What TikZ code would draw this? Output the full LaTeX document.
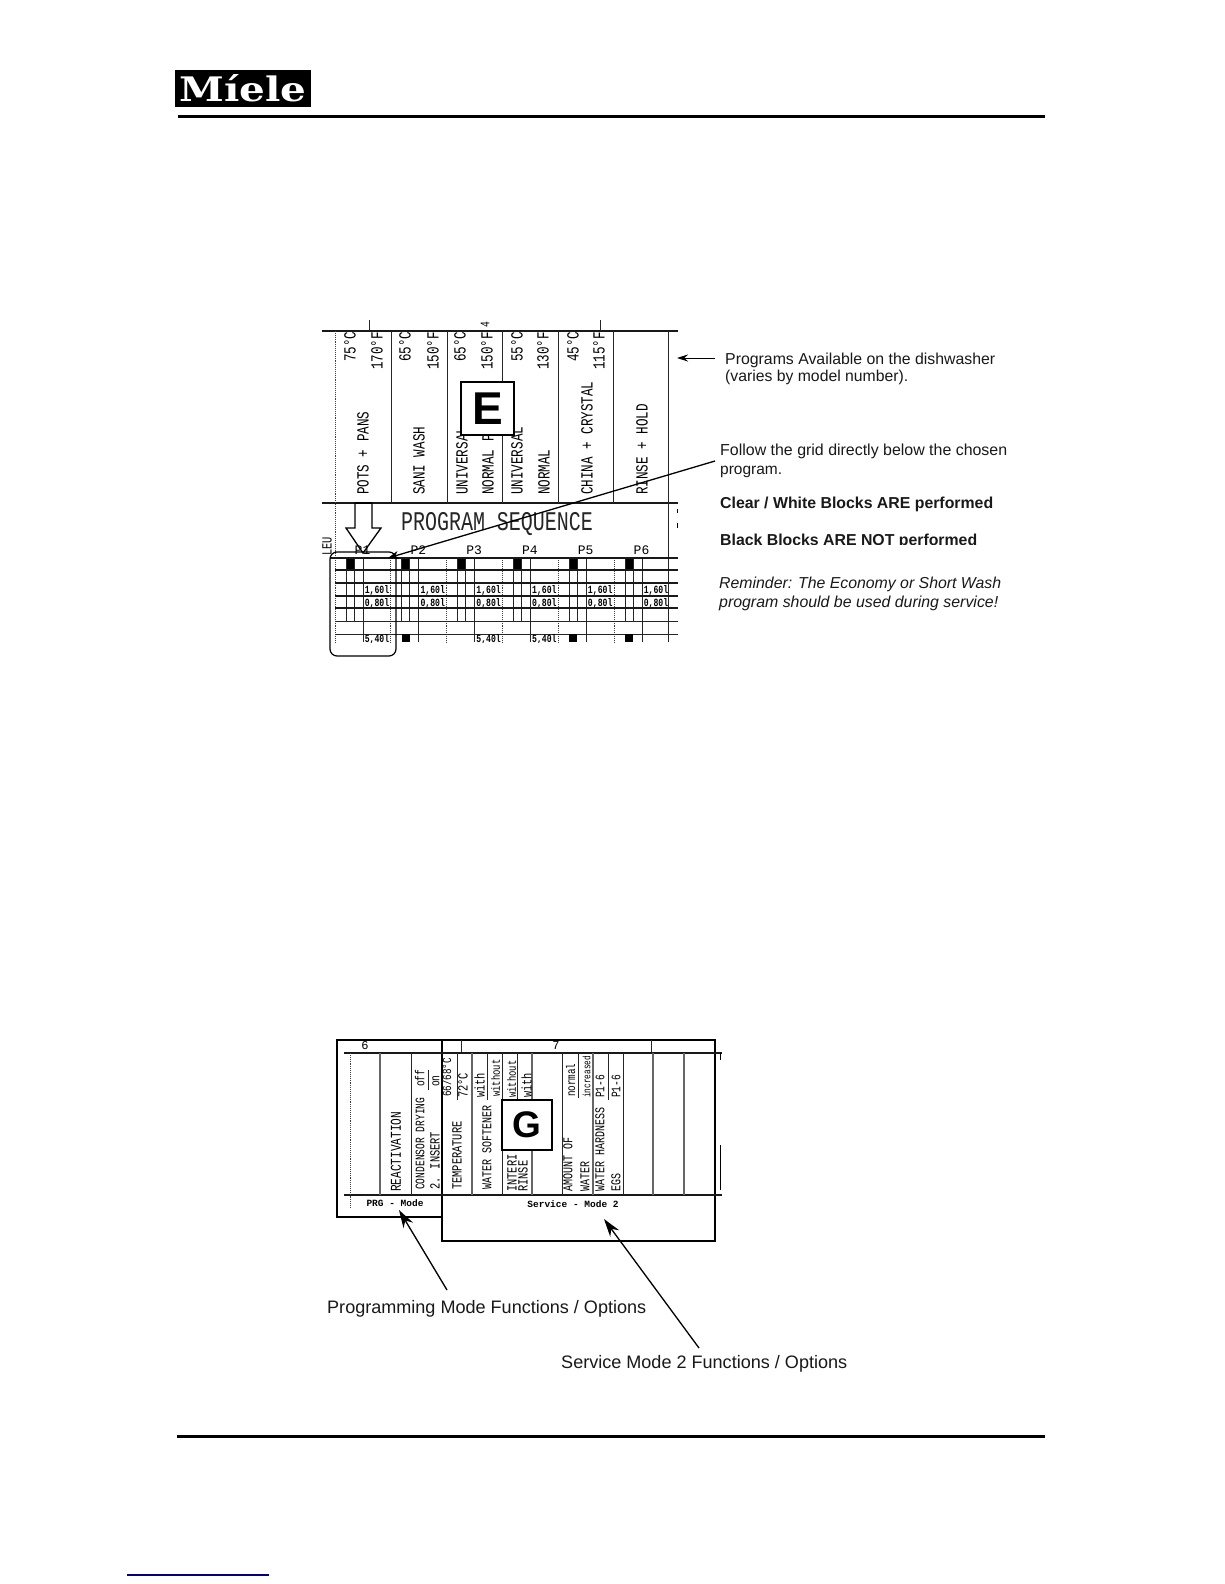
\documentclass[tikz,border=0pt]{standalone}
\usepackage{fontspec}
\usepackage{graphicx}
\usetikzlibrary{arrows.meta}
\setmainfont{Liberation Sans}
\newfontfamily\plotf[FakeStretch=0.74]{Liberation Mono}
\newfontfamily\plotw{Liberation Mono}
\newfontfamily\logof{DejaVu Serif}
\newcounter{vtc}
\tikzset{
  vlabel/.style={rotate=90,anchor=west,inner sep=0pt,text depth=0pt,text=black},
  note/.style={anchor=base west,inner sep=0pt,text=black!90},
  gridline/.style={line width=0.9pt,black!85},
  gridbold/.style={line width=1.3pt,black!90},
  dotline/.style={line width=0.9pt,black!75,densely dotted},
  frameline/.style={line width=2pt,black},
  pointer/.style={line width=1.3pt,-{Stealth[length=18pt,width=11pt]}},
  longpointer/.style={line width=1.3pt,-{Stealth[length=11pt,width=8pt]}},
  thinpointer/.style={line width=1pt,-{Stealth[length=11pt,width=7pt]}},
  rule/.style={line width=3pt,black},
  tagbox/.style={draw=black,fill=white,line width=2.4pt,inner sep=0pt},
  cell/.style={inner sep=0pt,font=\plotf\bfseries\fontsize{11}{11}\selectfont,text=black},
}
\newcommand\vt[4]{\stepcounter{vtc}\node[vlabel,text height=0.66*#3pt,font=\plotf\fontsize{#3}{#3}\selectfont] (v\thevtc) at (#1,#2) {#4};}
\newcommand\fitnote[5]{\node[note,font=#4] (#1) at #2 {\resizebox{#3pt}{!}{#5}};}
\begin{document}
\begin{tikzpicture}[x=1pt,y=-1pt]
\useasboundingbox (0,0) rectangle (1224,1584);
\fill[white] (0,0) rectangle (1224,1584);

% logo and page rules
\node[fill=black,minimum width=136pt,minimum height=37pt,inner sep=0pt] (logobox) at (243,88.5) {};
\node[inner sep=0pt,text=white] (logotext) at (243,88.5) {\resizebox{127pt}{27pt}{\logof\bfseries Míele}};
\coordinate (hl) at (178,117); \coordinate (hr) at (1045,117);
\draw[rule] (hl) -- (hr);
\coordinate (fl) at (177,1436); \coordinate (fr) at (1045,1436);
\draw[rule] (fl) -- (fr);
\coordinate (bl) at (127,1575); \coordinate (br) at (269,1575);
\draw[line width=1.2pt,blue!50!black] (bl) -- (br);

% ---------- table E ----------
\draw[gridbold] (322,331) -- (678,331);
\draw[gridbold] (322,503) -- (678,503);
\draw[gridline] (369,320) -- (369,331);
\draw[gridline] (600,320) -- (600,331);
\vt{485}{328}{13}{4}
\foreach \x in {391,447,502,558,613} \draw[gridline] (\x,331) -- (\x,503);
\draw[dotline] (335,331) -- (335,558);
\draw[gridline] (668,331) -- (668,642);
\draw[line width=1pt] (677,509) -- (677,513) (677,523) -- (677,528);

\vt{350}{362}{17}{75°C}
\vt{377}{370}{17}{170°F}
\vt{363}{495}{17}{POTS + PANS}
\vt{405}{362}{17}{65°C}
\vt{433}{370}{17}{150°F}
\vt{419}{495}{17}{SANI WASH}
\vt{460}{362}{17}{65°C}
\vt{487}{370}{17}{150°F}
\vt{462}{495}{17}{UNIVERSAL}
\vt{488}{495}{17}{NORMAL P}
\vt{517}{362}{17}{55°C}
\vt{543}{370}{17}{130°F}
\vt{517}{495}{17}{UNIVERSAL}
\vt{544}{495}{17}{NORMAL}
\vt{573}{362}{17}{45°C}
\vt{599}{370}{17}{115°F}
\vt{587}{495}{17}{CHINA + CRYSTAL}
\vt{642}{495}{17}{RINSE + HOLD}

\node[tagbox,minimum width=53pt,minimum height=53pt,font=\bfseries\fontsize{46}{46}\selectfont] (tagE) at (487.5,408.5) {\raisebox{-1.5pt}{E}};

% block arrow (the P1 label prints over it)
\draw[line width=1.3pt,fill=white] (355,503) -- (372,503) -- (372,528) -- (381,528) -- (363,553) -- (346,528) -- (355,528) -- cycle;
\draw[line width=2.5pt] (355,503) -- (372,503);

\node[inner sep=0pt,font=\plotf\fontsize{27}{27}\selectfont,text=black!85] (seq) at (497,524) {PROGRAM SEQUENCE};
\vt{327}{556}{14}{LEU}

% grid
\foreach \p/\lab in {0/P1,1/P2,2/P3,3/P4,4/P5,5/P6}{
  \pgfmathsetmacro\xa{335+55.8*\p}
  \node[inner sep=0pt,font=\plotw\fontsize{13}{13}\selectfont,text=black] (lab\lab) at ({\xa+27.5},550) {\lab};
  \fill[black] ({\xa+11},558) rectangle ({\xa+18.5},570);
  \draw[gridline] ({\xa+11},558) -- ({\xa+11},621);
  \draw[gridline] ({\xa+19},558) -- ({\xa+19},621);
  \draw[gridline] ({\xa+28},558) -- ({\xa+28},642);
  \draw[dotline] (\xa,558) -- (\xa,642);
  \node[cell] (va\p) at ({\xa+42},590) {1,60l};
  \node[cell] (vb\p) at ({\xa+42},603) {0,80l};
}
\draw[gridbold] (330,558) -- (678,558);
\foreach \y in {570,583,596,608} \draw[gridbold] (335,\y) -- (678,\y);
\draw[gridline] (335,621) -- (678,621);
\draw[gridline] (335,634) -- (678,634);
\begin{scope}
\clip (322,634) rectangle (678,642);
\foreach \p in {0,2,3}{
  \pgfmathsetmacro\xa{335+55.8*\p}
  \node[cell] (vc\p) at ({\xa+42},639) {5,40l};
}
\foreach \p in {1,4,5}{
  \pgfmathsetmacro\xa{335+55.8*\p}
  \fill[black] ({\xa+11},634) rectangle ({\xa+19},642);
}
\end{scope}

% rounded frame
\node[draw=black,line width=1.2pt,rounded corners=7pt,minimum width=66pt,minimum height=104pt,inner sep=0pt] (frameP) at (363,604) {};

% notes, table E
\coordinate (a1s) at (715,358); \coordinate (a1e) at (677,358);
\draw[thinpointer] (a1s) -- (a1e);
\coordinate (a2s) at (715,461); \coordinate (a2e) at (388,558);
\draw[longpointer] (a2s) -- (a2e);
\fitnote{n1}{(725,364)}{270}{}{Programs Available on the dishwasher}
\fitnote{n2}{(725,381)}{183}{}{(varies by model number).}
\fitnote{n3}{(720,455)}{287}{}{Follow the grid directly below the chosen}
\fitnote{n4}{(720,474)}{62}{}{program.}
\fitnote{n5}{(720,508)}{273}{\bfseries}{\bfseries Clear / White Blocks ARE performed}
\begin{scope}
\clip (700,525) rectangle (1020,544.5);
\fitnote{n6}{(720,545)}{257}{\bfseries}{\bfseries Black Blocks ARE NOT performed}
\end{scope}
\fitnote{n7}{(719,588)}{282}{\itshape}{\itshape Reminder: The Economy or Short Wash}
\fitnote{n8}{(719,607)}{279}{\itshape}{\itshape program should be used during service!}

% ---------- table G ----------
\draw[frameline] (442,1217) -- (337,1217) -- (337,1040) -- (715,1040) -- (715,1241) -- (442,1241) -- (442,1040);
\draw[gridline] (461,1040) -- (461,1053);
\draw[gridline] (651,1040) -- (651,1053);
\draw[gridbold] (344,1053) -- (722,1053);
\draw[gridbold] (344,1195) -- (722,1195);
\draw[dotline] (350,1053) -- (350,1207);
\foreach \x in {380,472,532,593,653,684} \draw[line width=1.1pt,black!60] (\x,1053) -- (\x,1195);
\foreach \x in {411,502,562,623} \draw[gridline] (\x,1053) -- (\x,1195);
\draw[gridline] (457,1053) -- (457,1100);
\draw[gridline] (487,1053) -- (487,1100);
\draw[gridline] (517,1053) -- (517,1100);
\draw[gridline] (578,1053) -- (578,1098);
\draw[gridline] (608,1053) -- (608,1100);
\draw[gridline] (428,1070) -- (428,1090);
\draw[line width=1pt] (720,1053) -- (720,1060) (720,1145) -- (720,1190);

\node[inner sep=0pt,font=\plotw\fontsize{12}{12}\selectfont] (six) at (365,1046) {6};
\node[inner sep=0pt,font=\plotw\fontsize{12}{12}\selectfont] (seven) at (556,1046) {7};

\vt{396}{1192}{15}{REACTIVATION}
\vt{420}{1190}{13}{CONDENSOR DRYING}
\vt{435}{1190}{14}{2. INSERT}
\vt{420}{1087}{13}{off}
\vt{435}{1087}{13}{on}
\vt{457}{1190}{14}{TEMPERATURE}
\vt{447}{1097}{12.5}{66/68°C}
\vt{463}{1098}{14}{72°C}
\vt{487}{1190}{13.5}{WATER SOFTENER}
\vt{480}{1098}{14}{with}
\vt{496}{1097}{12}{without}
\vt{512}{1098}{12}{without}
\vt{527}{1098}{14}{with}
\vt{512}{1192}{14}{INTERI}
\vt{523}{1192}{14}{RINSE}
\vt{568}{1192}{13.5}{AMOUNT OF}
\vt{585}{1192}{13.5}{WATER}
\vt{571}{1097}{12.5}{normal}
\vt{587}{1098}{10.5}{increased}
\vt{600}{1192}{13.5}{WATER HARDNESS}
\vt{616}{1192}{13.5}{EGS}
\vt{600}{1098}{13}{P1-6}
\vt{616}{1098}{13}{P1-6}

\node[tagbox,minimum width=50pt,minimum height=50pt,line width=2pt,font=\bfseries\fontsize{37}{37}\selectfont] (tagG) at (527,1125) {G};

\node[inner sep=0pt,font=\plotw\bfseries\fontsize{9.5}{9.5}\selectfont] (prg) at (395,1203) {PRG - Mode};
\node[inner sep=0pt,font=\plotw\bfseries\fontsize{9.5}{9.5}\selectfont] (srv) at (573,1204) {Service - Mode 2};

\coordinate (a3s) at (447,1290); \coordinate (a3e) at (399,1210);
\draw[pointer] (a3s) -- (a3e);
\coordinate (a4s) at (699,1348); \coordinate (a4e) at (604,1219);
\draw[pointer] (a4s) -- (a4e);

\fitnote{n9}{(327,1313)}{319}{}{Programming Mode Functions / Options}
\fitnote{n10}{(561,1368)}{286}{}{Service Mode 2 Functions / Options}
\end{tikzpicture}
\end{document}
